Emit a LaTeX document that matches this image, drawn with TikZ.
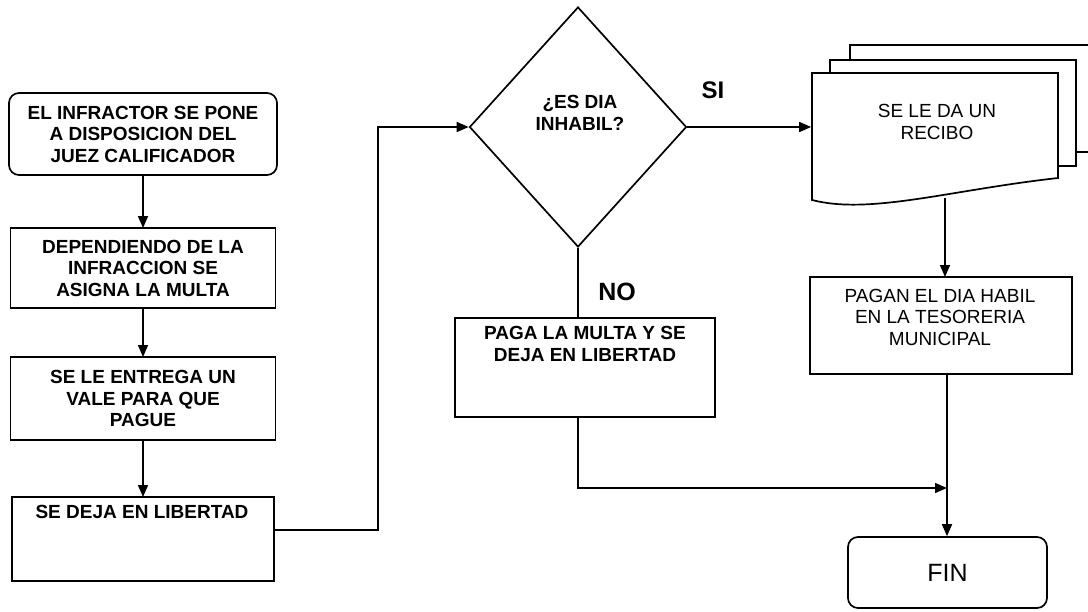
\documentclass[tikz,border=0pt]{standalone}
\usepackage{fontspec}
\setmainfont{Liberation Sans}
\usetikzlibrary{shapes.geometric,arrows.meta}
\begin{document}
\begin{tikzpicture}[x=1pt,y=-1pt,line width=1.7pt,
  box/.style={draw,line width=1.7pt,inner sep=0pt,outer sep=0pt,align=center,
    font=\fontsize{19}{21.5}\selectfont\bfseries},
  btxt/.style={align=center,inner sep=0pt,font=\fontsize{19}{21.5}\selectfont\bfseries},
  rtxt/.style={align=center,inner sep=0pt,font=\fontsize{19}{21.5}\selectfont},
  arr/.style={-{Triangle[length=12pt,width=10pt]},line width=1.7pt}]
\useasboundingbox (0,0) rectangle (1088,611);

% left column
\node[box,rounded corners=10pt,minimum width=268pt,minimum height=82pt] (b1) at (143,134)
  {EL INFRACTOR SE PONE\\A DISPOSICION DEL\\JUEZ CALIFICADOR};
\node[box,minimum width=265pt,minimum height=80pt] (b2) at (143,268)
  {DEPENDIENDO DE LA\\INFRACCION SE\\ASIGNA LA MULTA};
\node[box,minimum width=265pt,minimum height=83pt] (b3) at (143,398.5)
  {SE LE ENTREGA UN\\VALE PARA QUE\\PAGUE};
\node[box,minimum width=262pt,minimum height=84pt] (b4) at (143,539) {};
\node[btxt] (b4t) at (142,512) {SE DEJA EN LIBERTAD};

\draw[arr] (b1.south) -- (b2.north);
\draw[arr] (b2.south) -- (b3.north);
\draw[arr] (b3.south) -- (b4.north);

% decision
\node[draw,diamond,line width=1.7pt,inner sep=0pt,minimum width=217pt,minimum height=240pt] (d) at (578,127) {};
\node[btxt] (dt) at (580,113) {¿ES DIA\\INHABIL?};
\coordinate (m) at (378,300);
\draw[arr] ([yshift=9pt]b4.east) -| (m) |- (d.west);

\node[font=\fontsize{24}{24}\selectfont\bfseries,inner sep=0pt] (si) at (713,90) {SI};
\node[font=\fontsize{25}{25}\selectfont\bfseries,inner sep=0pt] (no) at (617,292) {NO};

% NO branch
\node[box,minimum width=260pt,minimum height=99pt] (pg) at (585,367.5) {};
\node[btxt] (pgt) at (585,344) {PAGA LA MULTA Y SE\\DEJA EN LIBERTAD};
\draw (d.south) -- (d.south |- pg.north);
\coordinate (j) at (947,488);
\draw[arr] (d.south |- pg.south) |- (j);

% document stack
\draw[fill=white] (850,45) rectangle (1100,152);
\draw[fill=white] (830,60) rectangle (1076,166);
\draw[fill=white] (812,73) -- (1058,73) -- (1058,178)
  .. controls (950,190) and (870,215) .. (812,200) -- cycle;
\node[inner sep=0pt,minimum width=246pt,minimum height=127pt] (doc) at (935,136) {};
\node[rtxt] (doct) at (937,122) {SE LE DA UN\\RECIBO};
\draw[arr] (d.east) -- (d.east -| doc.west);

% SI branch
\node[box,font=\fontsize{19}{21.5}\selectfont,minimum width=262pt,minimum height=97pt] (pn) at (941,325.5) {};
\node[rtxt] (pnt) at (940,317) {PAGAN EL DIA HABIL\\EN LA TESORERIA\\MUNICIPAL};
\coordinate (docb) at (945,198);
\draw[arr] (docb) -- (docb |- pn.north);

% end
\node[draw,rounded corners=10pt,line width=1.7pt,inner sep=0pt,minimum width=199pt,minimum height=71pt,
  font=\fontsize{25}{25}\selectfont] (fin) at (947.5,572.5) {FIN};
\draw[arr] (j |- pn.south) -- (j |- fin.north);
\end{tikzpicture}
\end{document}
